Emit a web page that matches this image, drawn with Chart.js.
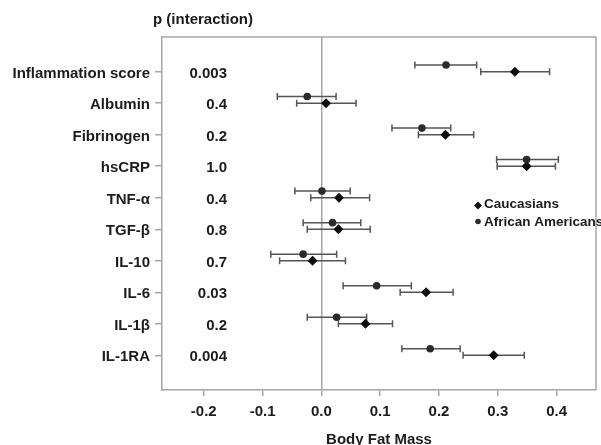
<!DOCTYPE html>
<html lang="en">
<head>
<meta charset="UTF-8" />
<title>Body Fat Mass – inflammation markers</title>
<script src="https://cdn.jsdelivr.net/npm/chart.js"></script>
<style>
  html, body { margin: 0; padding: 0; background: #fff; }
  .wrap { width: 601px; height: 445px; }
</style>
</head>
<body>
<div class="wrap"><canvas id="chart"></canvas></div>
<script>
  const markers = ['Inflammation score', 'Albumin', 'Fibrinogen', 'hsCRP', 'TNF-α', 'TGF-β', 'IL-10', 'IL-6', 'IL-1β', 'IL-1RA'];
  const pInteraction = ['0.003', '0.4', '0.2', '1.0', '0.4', '0.8', '0.7', '0.03', '0.2', '0.004'];
  const xTicks = [-0.2, -0.1, 0, 0.1, 0.2, 0.3, 0.4];

  // Caucasians (diamonds)
  const caucEst  = [0.329, 0.008, 0.211, 0.349, 0.030, 0.029, -0.015, 0.178, 0.075, 0.293];
  const caucLow  = [0.271, -0.042, 0.165, 0.299, -0.018, -0.024, -0.071, 0.134, 0.029, 0.241];
  const caucHigh = [0.388, 0.059, 0.259, 0.398, 0.082, 0.083, 0.041, 0.224, 0.121, 0.345];

  // African Americans (circles)
  const aaEst  = [0.212, -0.024, 0.171, 0.349, 0.001, 0.019, -0.031, 0.094, 0.026, 0.185];
  const aaLow  = [0.159, -0.075, 0.120, 0.298, -0.045, -0.031, -0.086, 0.037, -0.024, 0.137];
  const aaHigh = [0.264, 0.025, 0.220, 0.403, 0.049, 0.067, 0.026, 0.153, 0.077, 0.236];

  const AA_SHIFT = -0.21; // circles sit a little above the row
  const FONT = '"Liberation Sans", Arial, sans-serif';
  const TXT = '#1c1c1c';
  const LINE = '#a6a6a6';

  Chart.defaults.font.family = FONT;

  const errorBars = {
    id: 'errorBars',
    beforeDatasetsDraw(chart) {
      const { ctx, scales: { x, y } } = chart;
      ctx.save();
      ctx.strokeStyle = '#555';
      ctx.lineWidth = 1.5;
      chart.data.datasets.forEach(ds => {
        ds.data.forEach(d => {
          const py = y.getPixelForValue(d.y);
          const x0 = x.getPixelForValue(d.lo);
          const x1 = x.getPixelForValue(d.hi);
          ctx.beginPath();
          ctx.moveTo(x0, py); ctx.lineTo(x1, py);
          ctx.moveTo(x0, py - 3.5); ctx.lineTo(x0, py + 3.5);
          ctx.moveTo(x1, py - 3.5); ctx.lineTo(x1, py + 3.5);
          ctx.stroke();
        });
      });
      ctx.restore();
    }
  };

  const extras = {
    id: 'extras',
    afterDraw(chart) {
      const { ctx, chartArea: a, scales: { y } } = chart;
      ctx.save();
      // top and right frame
      ctx.strokeStyle = LINE;
      ctx.lineWidth = 1.5;
      ctx.beginPath();
      ctx.moveTo(a.left, a.top); ctx.lineTo(a.right, a.top); ctx.lineTo(a.right, a.bottom);
      ctx.stroke();

      ctx.fillStyle = TXT;
      ctx.font = 'bold 15px ' + FONT;
      ctx.textBaseline = 'middle';
      ctx.textAlign = 'center';
      ctx.fillText('p (interaction)', 203, 20);

      ctx.textAlign = 'right';
      pInteraction.forEach((p, i) => {
        ctx.fillText(p, a.left + 65, y.getPixelForValue(i) + 2);
      });

      // legend
      ctx.textAlign = 'left';
      ctx.font = 'bold 13.5px ' + FONT;
      ctx.fillStyle = '#111';
      ctx.beginPath();
      ctx.moveTo(478, 201.5); ctx.lineTo(482, 205.5); ctx.lineTo(478, 209.5); ctx.lineTo(474, 205.5);
      ctx.closePath(); ctx.fill();
      ctx.beginPath();
      ctx.arc(478, 221.5, 2.8, 0, Math.PI * 2);
      ctx.fillStyle = '#2b2b2b'; ctx.fill();
      ctx.fillStyle = TXT;
      ctx.fillText('Caucasians', 484, 204);
      ctx.fillText('African Americans', 484, 222);
      ctx.restore();
    }
  };

  new Chart(document.getElementById('chart'), {
    type: 'scatter',
    data: {
      datasets: [
        {
          label: 'African Americans',
          data: aaEst.map((v, i) => ({ x: v, y: i + AA_SHIFT, lo: aaLow[i], hi: aaHigh[i] })),
          pointStyle: 'circle',
          pointRadius: 3.8,
          backgroundColor: '#2b2b2b',
          borderColor: '#2b2b2b',
          borderWidth: 0
        },
        {
          label: 'Caucasians',
          data: caucEst.map((v, i) => ({ x: v, y: i, lo: caucLow[i], hi: caucHigh[i] })),
          pointStyle: 'rectRot',
          pointRadius: 5,
          backgroundColor: '#0d0d0d',
          borderColor: '#0d0d0d',
          borderWidth: 0
        }
      ]
    },
    options: {
      responsive: true,
      maintainAspectRatio: false,
      animation: false,
      layout: { padding: { top: 37, right: 4, left: 0, bottom: 0 } },
      plugins: { legend: { display: false }, tooltip: { enabled: false } },
      scales: {
        x: {
          type: 'linear',
          min: -0.271,
          max: 0.467,
          afterBuildTicks: ax => { ax.ticks = xTicks.map(v => ({ value: v })); },
          afterFit: ax => { ax.height = 55; },
          ticks: {
            callback: v => v.toFixed(1),
            font: { size: 15, weight: 'bold' },
            color: TXT,
            padding: 7,
            maxRotation: 0,
            autoSkip: false
          },
          grid: {
            color: c => (c.tick && c.tick.value === 0 ? LINE : 'rgba(0,0,0,0)'),
            tickColor: LINE,
            tickLength: 6,
            lineWidth: 1.5
          },
          border: { color: LINE, width: 1.5 },
          title: {
            display: true,
            text: 'Body Fat Mass',
            font: { size: 15, weight: 'bold', lineHeight: 0.7 },
            color: TXT,
            padding: 0
          }
        },
        y: {
          type: 'linear',
          reverse: true,
          min: -1.1,
          max: 10.1,
          afterBuildTicks: ax => { ax.ticks = markers.map((m, i) => ({ value: i })); },
          afterFit: ax => { ax.width = 162; },
          ticks: {
            callback: v => markers[v],
            font: { size: 15, weight: 'bold' },
            color: TXT,
            padding: 5,
            labelOffset: 2,
            autoSkip: false
          },
          grid: { drawOnChartArea: false, tickLength: 7, tickColor: LINE, lineWidth: 1.5 },
          border: { color: LINE, width: 1.5 }
        }
      }
    },
    plugins: [errorBars, extras]
  });
</script>
</body>
</html>
